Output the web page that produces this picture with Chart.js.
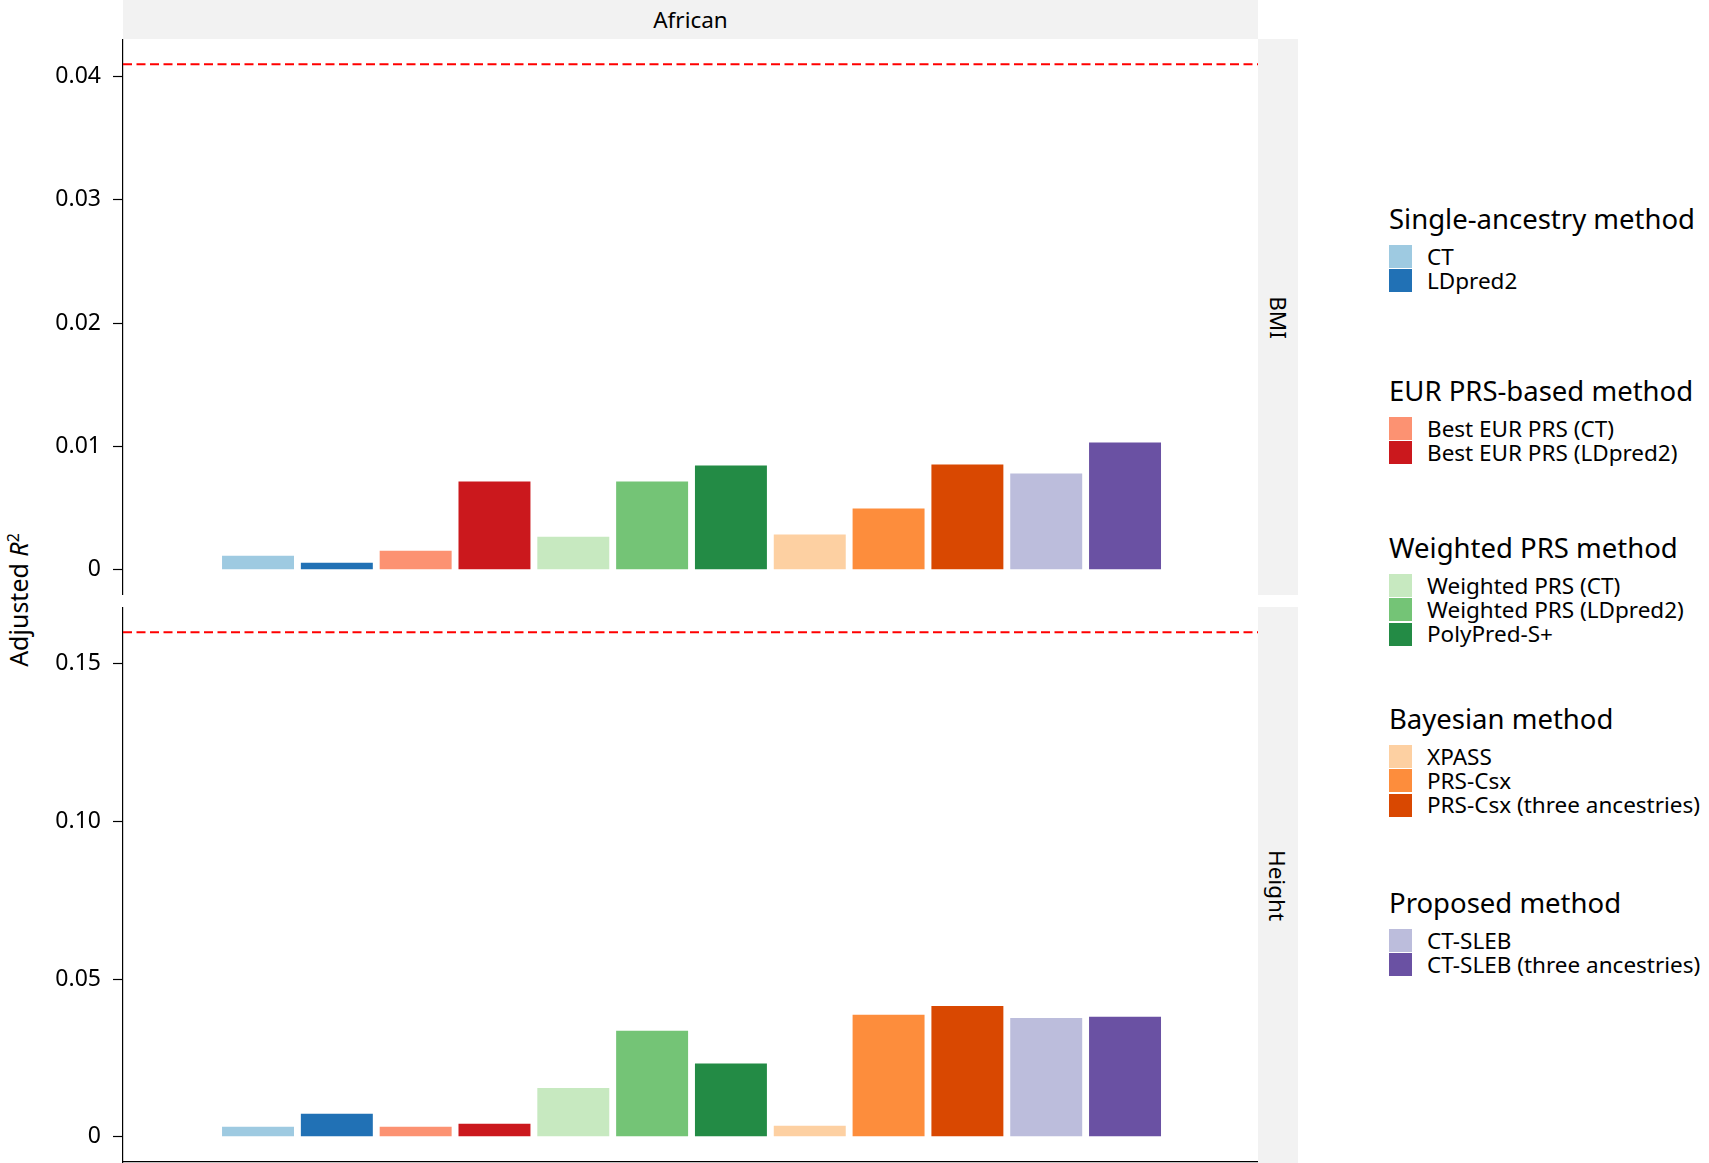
<!DOCTYPE html>
<html>
<head>
<meta charset="utf-8">
<script src="https://cdn.jsdelivr.net/npm/chart.js@4.4.1/dist/chart.umd.min.js"></script>
<style>
  body { margin: 0; width: 1709px; height: 1163px; overflow: hidden; background: #fff;
         font-family: "Noto Sans", sans-serif; color: #000; position: relative; }
  .strip { position: absolute; background: #f2f2f2; display: flex; align-items: center;
           justify-content: center; font-size: 22.5px; }
  .vtext { transform: rotate(90deg); white-space: nowrap; }
  canvas { position: absolute; left: 0; }
  .ytitle { position: absolute; left: 18px; top: 600px; font-size: 25px; white-space: nowrap;
            transform: translate(-50%, -50%) rotate(-90deg); }
  .ytitle sup { font-size: 16px; }
  .lg-title { position: absolute; left: 1389px; font-size: 27.5px; line-height: 30px; white-space: nowrap; }
  .lg-box { position: absolute; left: 1389px; width: 23px; height: 23px; }
  .lg-text { position: absolute; left: 1427px; font-size: 22.5px; line-height: 24px; white-space: nowrap; }
</style>
</head>
<body>
<div class="strip" style="left:123px;top:0;width:1135px;height:39px;">African</div>
<div class="strip" style="left:1258px;top:39px;width:40px;height:556px;"><span class="vtext">BMI</span></div>
<div class="strip" style="left:1258px;top:607px;width:40px;height:556px;"><span class="vtext">Height</span></div>
<div class="ytitle">Adjusted <i>R</i><sup>2</sup></div>
<canvas id="bmiChart" width="1258" height="556" style="top:39px"></canvas>
<canvas id="heightChart" width="1258" height="556" style="top:607px"></canvas>
<div id="legend"></div>
<script>
// methods in plotting order
const methods = ["CT", "LDpred2", "Best EUR PRS (CT)", "Best EUR PRS (LDpred2)",
  "Weighted PRS (CT)", "Weighted PRS (LDpred2)", "PolyPred-S+",
  "XPASS", "PRS-Csx", "PRS-Csx (three ancestries)", "CT-SLEB", "CT-SLEB (three ancestries)"];
const methodColors = ["#9ecae1", "#2171b5", "#fc9272", "#cb181d", "#c7e9c0", "#74c476",
  "#238b45", "#fdd0a2", "#fd8d3c", "#d94801", "#bcbddc", "#6a51a3"];
const groupTitles = ["Single-ancestry method", "EUR PRS-based method", "Weighted PRS method",
  "Bayesian method", "Proposed method"];
const methodGroup = [0, 0, 1, 1, 2, 2, 2, 3, 3, 3, 4, 4];

// adjusted R2 values, African ancestry
const bmiValues = [0.00114, 0.00057, 0.00154, 0.00715, 0.00268, 0.00715,
  0.00846, 0.00285, 0.00496, 0.00854, 0.00780, 0.01033];
const heightValues = [0.0032, 0.0073, 0.0032, 0.0041, 0.0155, 0.0336,
  0.0232, 0.0035, 0.0387, 0.0415, 0.0377, 0.0381];

// dashed reference lines
const bmiReference = [0.041];
const heightReference = [0.16];

// y tick marks
const bmiTicks = [0, 0.01, 0.02, 0.03, 0.04];
const bmiTickLabels = ["0", "0.01", "0.02", "0.03", "0.04"];
const heightTicks = [0, 0.05, 0.10, 0.15];
const heightTickLabels = ["0", "0.05", "0.10", "0.15"];

const FONT = "'Noto Sans', sans-serif";
const positions = methods.map((m, i) => i + 1);

const refLine = {
  id: "refLine",
  afterDatasetsDraw(chart, args, opts) {
    const { ctx, chartArea, scales } = chart;
    (opts.values || []).forEach(v => {
      const py = scales.y.getPixelForValue(v);
      ctx.save();
      ctx.strokeStyle = "#ff0000";
      ctx.lineWidth = 2;
      ctx.setLineDash([9, 4.5]);
      ctx.beginPath();
      ctx.moveTo(chartArea.left, py);
      ctx.lineTo(chartArea.right, py);
      ctx.stroke();
      ctx.restore();
    });
  }
};

function makeChart(id, values, ticks, tickLabels, refs, yMin, yMax, showXLine) {
  return new Chart(document.getElementById(id), {
    type: "bar",
    data: {
      datasets: [{
        data: values.map((v, i) => ({ x: positions[i], y: v })),
        backgroundColor: methodColors,
        borderWidth: 0,
        barPercentage: 0.913,
        categoryPercentage: 1.0
      }]
    },
    options: {
      responsive: false,
      animation: false,
      layout: { padding: { left: 0, right: 0, top: 0, bottom: showXLine ? 1 : 0 } },
      plugins: { legend: { display: false }, tooltip: { enabled: false }, refLine: { values: refs } },
      scales: {
        x: {
          type: "linear",
          min: -0.713,
          max: 13.687,
          offset: false,
          display: showXLine,
          afterBuildTicks: s => { s.ticks = positions.map(v => ({ value: v })); },
          ticks: { display: false },
          grid: { display: false, drawTicks: false, offset: false },
          border: { display: true, color: "#000", width: 1.2 }
        },
        y: {
          min: yMin,
          max: yMax,
          afterBuildTicks: s => { s.ticks = ticks.map(v => ({ value: v })); },
          afterFit: s => { s.width = 123; s.paddingTop = 0; s.paddingBottom = 0; },
          ticks: {
            callback: (v, i) => tickLabels[i],
            color: "#000",
            font: { family: FONT, size: 23 },
            padding: 12
          },
          grid: { drawOnChartArea: false, drawTicks: true, tickLength: 10, tickColor: "#000", tickWidth: 1.2 },
          border: { display: true, color: "#000", width: 1.2 }
        }
      }
    },
    plugins: [refLine]
  });
}

makeChart("bmiChart", bmiValues, bmiTicks, bmiTickLabels, bmiReference, -0.00205, 0.04305, false);
makeChart("heightChart", heightValues, heightTicks, heightTickLabels, heightReference, -0.008, 0.168, true);

// grouped legend
const legendTitleY = [219, 391, 548, 719, 903];
const legend = document.getElementById("legend");
groupTitles.forEach((title, g) => {
  const t = document.createElement("div");
  t.className = "lg-title";
  t.style.top = (legendTitleY[g] - 15) + "px";
  t.textContent = title;
  legend.appendChild(t);
  let k = 0;
  methods.forEach((m, i) => {
    if (methodGroup[i] !== g) return;
    const top = legendTitleY[g] + 26 + k * 24.4;
    const box = document.createElement("div");
    box.className = "lg-box";
    box.style.top = top + "px";
    box.style.background = methodColors[i];
    legend.appendChild(box);
    const txt = document.createElement("div");
    txt.className = "lg-text";
    txt.style.top = (top - 0.5) + "px";
    txt.textContent = m;
    legend.appendChild(txt);
    k++;
  });
});
</script>
</body>
</html>
